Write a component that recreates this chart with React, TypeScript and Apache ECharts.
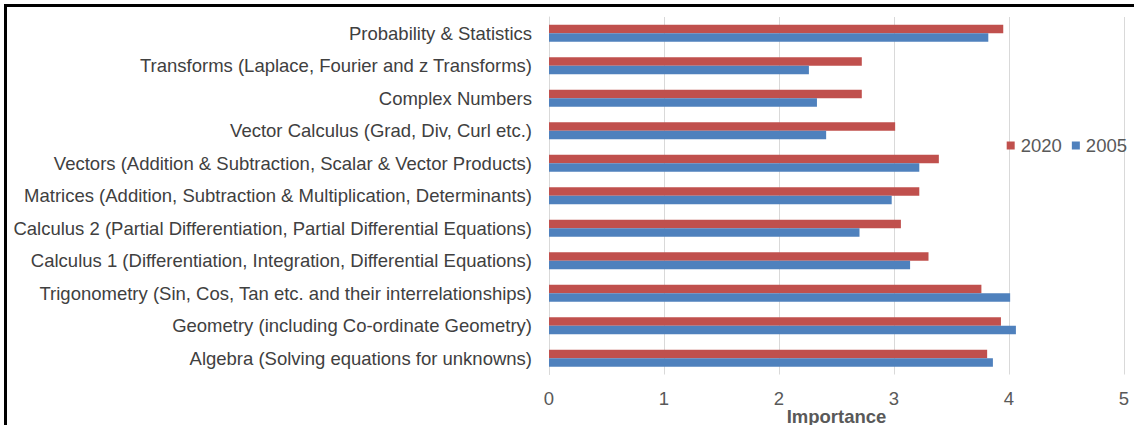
import React, { useEffect, useRef } from "react";
import * as echarts from "echarts";

const categories = [
  "Probability & Statistics",
  "Transforms (Laplace, Fourier and z Transforms)",
  "Complex Numbers",
  "Vector Calculus (Grad, Div, Curl etc.)",
  "Vectors (Addition & Subtraction, Scalar & Vector Products)",
  "Matrices (Addition, Subtraction & Multiplication, Determinants)",
  "Calculus 2 (Partial Differentiation, Partial Differential Equations)",
  "Calculus 1 (Differentiation, Integration, Differential Equations)",
  "Trigonometry (Sin, Cos, Tan etc. and their interrelationships)",
  "Geometry (including Co-ordinate Geometry)",
  "Algebra (Solving equations for unknowns)",
];
const values2020 = [3.95, 2.72, 2.72, 3.01, 3.39, 3.22, 3.06, 3.3, 3.76, 3.93, 3.81];
const values2005 = [3.82, 2.26, 2.33, 2.41, 3.22, 2.98, 2.7, 3.14, 4.01, 4.06, 3.86];
const xTicks = [0, 1, 2, 3, 4, 5];

export default function App() {
  const ref = useRef<HTMLDivElement>(null);
  useEffect(() => {
    if (!ref.current) return;
    const chart = echarts.init(ref.current, undefined, { renderer: "svg" });
    const font = "Liberation Sans, Arial, sans-serif";
    chart.setOption({
      animation: false,
      textStyle: { fontFamily: font },
      graphic: [
        {
          type: "rect",
          shape: { x: 5.5, y: 5.5, width: 1300, height: 600 },
          style: { fill: "none", stroke: "#000", lineWidth: 3 },
          silent: true,
        },
      ],
      legend: {
        data: ["2020", "2005"],
        right: 2,
        top: 131,
        itemWidth: 8,
        itemHeight: 8,
        itemGap: 10,
        icon: "rect",
        textStyle: { fontSize: 18.5, color: "#595959", fontFamily: font, padding: [0, 0, 0, 1] },
      },
      grid: {
        left: 549,
        right: 10,
        top: 17,
        bottom: 50.5,
        containLabel: false,
        outerBoundsMode: "none",
      },
      xAxis: {
        type: "value",
        min: xTicks[0],
        max: xTicks[xTicks.length - 1],
        interval: 1,
        axisLine: { show: false },
        axisTick: { show: false },
        axisLabel: { fontSize: 18.5, color: "#595959", margin: 14, fontFamily: font },
        splitLine: { show: true, lineStyle: { color: "#D9D9D9", width: 1 } },
        name: "Importance",
        nameLocation: "middle",
        nameGap: 32,
        nameMoveOverlap: false,
        nameTextStyle: { fontSize: 18.5, fontWeight: "bold", color: "#595959", fontFamily: font },
      },
      yAxis: {
        type: "category",
        data: categories,
        inverse: true,
        axisLine: { show: true, lineStyle: { color: "#D9D9D9" } },
        axisTick: { show: false },
        axisLabel: { fontSize: 18.5, color: "#404040", margin: 17, fontFamily: font },
      },
      series: [
        {
          name: "2020",
          type: "bar",
          data: values2020,
          barGap: "0%",
          barCategoryGap: "48%",
          itemStyle: { color: "#C0504D" },
        },
        {
          name: "2005",
          type: "bar",
          data: values2005,
          barGap: "0%",
          barCategoryGap: "48%",
          itemStyle: { color: "#4F81BD" },
        },
      ],
    });
    return () => chart.dispose();
  }, []);
  return (
    <div
      ref={ref}
      style={{ position: "absolute", left: 0, top: 0, width: 1134, height: 425, background: "#fff" }}
    />
  );
}
